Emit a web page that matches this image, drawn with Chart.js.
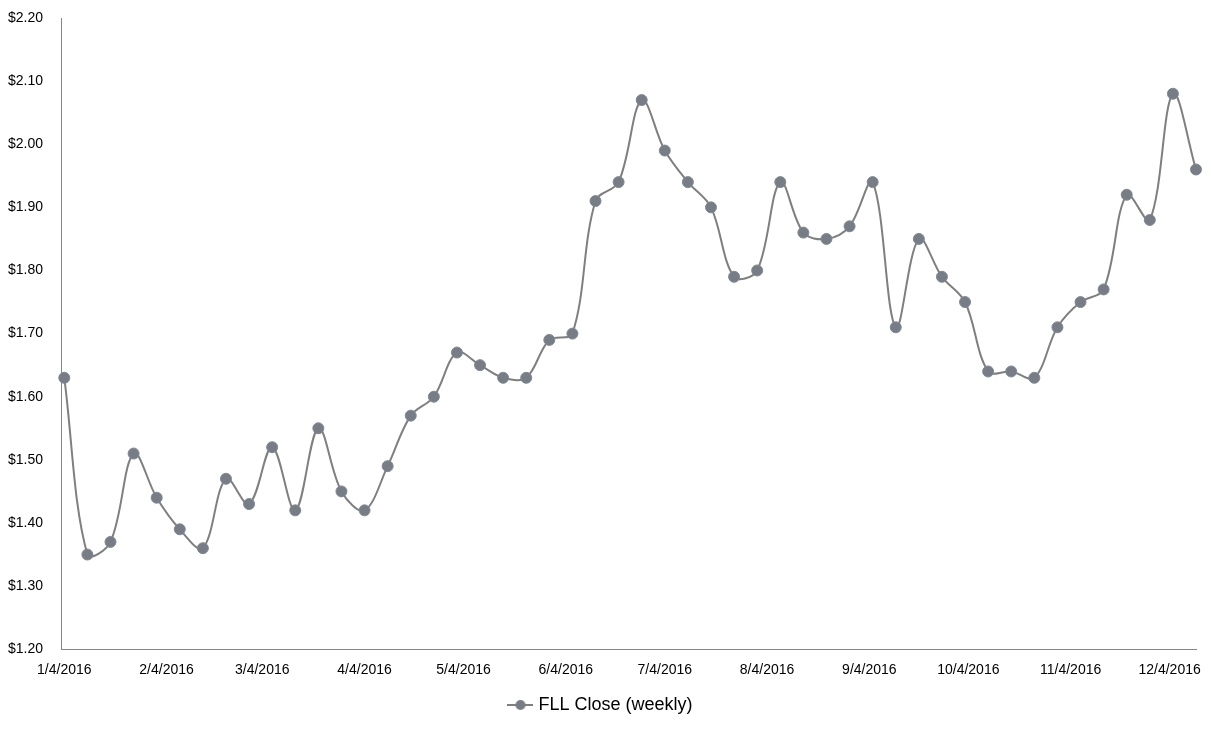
<!DOCTYPE html>
<html>
<head>
<meta charset="utf-8">
<script src="https://cdn.jsdelivr.net/npm/chart.js@4"></script>
<style>
  html, body { margin: 0; padding: 0; background: #fff; }
  #wrap { width: 1211px; height: 730px; }
</style>
</head>
<body>
<div id="wrap"><canvas id="fllChart"></canvas></div>
<script>
// weekly closing dates and prices
const weekDates = [
  '1/4/2016', '1/11/2016', '1/18/2016', '1/25/2016',
  '2/1/2016', '2/8/2016', '2/15/2016', '2/22/2016', '2/29/2016',
  '3/7/2016', '3/14/2016', '3/21/2016', '3/28/2016',
  '4/4/2016', '4/11/2016', '4/18/2016', '4/25/2016',
  '5/2/2016', '5/9/2016', '5/16/2016', '5/23/2016', '5/30/2016',
  '6/6/2016', '6/13/2016', '6/20/2016', '6/27/2016',
  '7/4/2016', '7/11/2016', '7/18/2016', '7/25/2016',
  '8/1/2016', '8/8/2016', '8/15/2016', '8/22/2016', '8/29/2016',
  '9/5/2016', '9/12/2016', '9/19/2016', '9/26/2016',
  '10/3/2016', '10/10/2016', '10/17/2016', '10/24/2016', '10/31/2016',
  '11/7/2016', '11/14/2016', '11/21/2016', '11/28/2016',
  '12/5/2016', '12/12/2016'
];
const closePrices = [
  1.63, 1.35, 1.37, 1.51,
  1.44, 1.39, 1.36, 1.47, 1.43,
  1.52, 1.42, 1.55, 1.45,
  1.42, 1.49, 1.57, 1.60,
  1.67, 1.65, 1.63, 1.63, 1.69,
  1.70, 1.91, 1.94, 2.07,
  1.99, 1.94, 1.90, 1.79,
  1.80, 1.94, 1.86, 1.85, 1.87,
  1.94, 1.71, 1.85, 1.79,
  1.75, 1.64, 1.64, 1.63, 1.71,
  1.75, 1.77, 1.92, 1.88,
  2.08, 1.96
];
const xTickLabels = [
  '1/4/2016', '2/4/2016', '3/4/2016', '4/4/2016', '5/4/2016', '6/4/2016',
  '7/4/2016', '8/4/2016', '9/4/2016', '10/4/2016', '11/4/2016', '12/4/2016'
];
const xAxisStart = '1/3/2016';
const yMin = 1.2;
const yMax = 2.2;
const yStep = 0.1;

// m/d/yyyy -> day number
function toDay(s) {
  const p = s.split('/').map(Number);
  return Date.UTC(p[2], p[0] - 1, p[1]) / 86400000;
}

const tickDays = xTickLabels.map(toDay);
const points = weekDates.map((d, i) => ({ x: toDay(d), y: closePrices[i] }));

const gray = '#7f7f7f';
const txt = '#000000';
const fontFamily = '"Liberation Sans", Arial, sans-serif';

// legend icon: short line with a marker
const icon = document.createElement('canvas');
icon.width = 26; icon.height = 12;
(function () {
  const c = icon.getContext('2d');
  c.strokeStyle = gray; c.lineWidth = 2;
  c.beginPath(); c.moveTo(0, 6); c.lineTo(26, 6); c.stroke();
  c.fillStyle = '#787c84';
  c.beginPath(); c.arc(13, 6, 5, 0, Math.PI * 2); c.fill();
})();

new Chart(document.getElementById('fllChart'), {
  type: 'line',
  data: {
    datasets: [{
      label: 'FLL Close (weekly)',
      data: points,
      borderColor: gray,
      borderWidth: 2,
      tension: 0.35,
      pointRadius: 5.5,
      pointBackgroundColor: '#787c84',
      pointBorderColor: '#7f8896',
      pointBorderWidth: 1,
      clip: false,
      fill: false
    }]
  },
  options: {
    responsive: true,
    maintainAspectRatio: false,
    animation: false,
    layout: { padding: { left: 8, right: 15, top: 18, bottom: 6 } },
    scales: {
      x: {
        type: 'linear',
        min: toDay(xAxisStart),
        max: toDay(weekDates[weekDates.length - 1]),
        afterBuildTicks: function (scale) {
          scale.ticks = tickDays.map(v => ({ value: v }));
        },
        grid: { display: false },
        border: { display: true, color: '#868686', width: 1 },
        ticks: {
          autoSkip: false,
          maxRotation: 0,
          color: txt,
          padding: 5,
          font: { family: fontFamily, size: 14 },
          callback: function (value) {
            const i = tickDays.indexOf(value);
            return i >= 0 ? xTickLabels[i] : '';
          }
        }
      },
      y: {
        min: yMin,
        max: yMax,
        afterFit: function (scale) { scale.width = 53; },
        grid: { display: false },
        border: { display: true, color: '#868686', width: 1 },
        ticks: {
          stepSize: yStep,
          crossAlign: 'far',
          color: txt,
          font: { family: fontFamily, size: 14 },
          callback: function (value) { return '$' + Number(value).toFixed(2); }
        }
      }
    },
    plugins: {
      tooltip: { enabled: false },
      legend: {
        position: 'bottom',
        labels: {
          color: txt,
          padding: 12,
          font: { family: fontFamily, size: 18 },
          usePointStyle: true,
          generateLabels: function (chart) {
            return chart.data.datasets.map((ds, i) => ({
              text: ds.label,
              pointStyle: icon,
              fontColor: txt,
              datasetIndex: i,
              lineWidth: 0,
              strokeStyle: 'transparent',
              fillStyle: 'transparent'
            }));
          }
        }
      }
    }
  }
});
</script>
</body>
</html>
